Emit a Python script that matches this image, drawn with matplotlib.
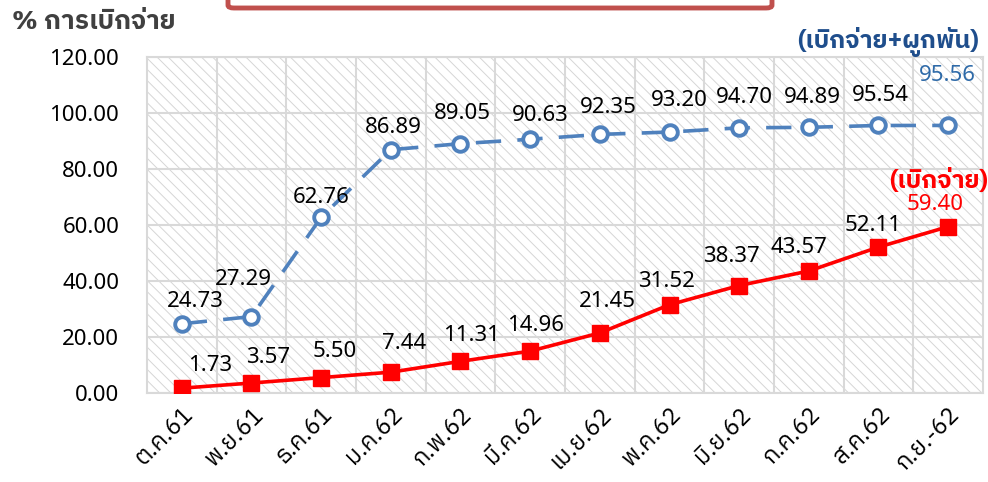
import matplotlib
matplotlib.use("Agg")
import matplotlib.pyplot as plt
from matplotlib.patches import Rectangle, FancyBboxPatch
from matplotlib.transforms import ScaledTranslation

plt.rcParams["font.family"] = ["Noto Sans", "IBM Plex Sans Thai", "DejaVu Sans"]
plt.rcParams["hatch.linewidth"] = 0.7

# Months (Thai fiscal year 2562)
months = ["ต.ค.61", "พ.ย.61", "ธ.ค.61", "ม.ค.62", "ก.พ.62", "มี.ค.62",
          "เม.ย.62", "พ.ค.62", "มิ.ย.62", "ก.ค.62", "ส.ค.62", "ก.ย.-62"]

# Cumulative disbursement + commitment (%)
committed = [24.73, 27.29, 62.76, 86.89, 89.05, 90.63,
             92.35, 93.20, 94.70, 94.89, 95.54, 95.56]

# Cumulative disbursement (%)
disbursed = [1.73, 3.57, 5.50, 7.44, 11.31, 14.96,
             21.45, 31.52, 38.37, 43.57, 52.11, 59.40]

y_ticks = [0, 20, 40, 60, 80, 100, 120]

# label offsets (pixels) from each marker
committed_dx = [13, -8, 0, 2, 2, 10, 8, 10, 5, 4, 2, -1]
committed_dy = [22, 37, 20, 22, 30, 24, 27, 32, 30, 30, 30, 50]
disbursed_dx = [28, 17, 14, 13, 11, 5, 8, -3, -8, -10, -5, -13]
disbursed_dy = [23, 26, 26, 29, 26, 26, 31, 23, 29, 24, 22, 22]

BLUE = "#4f81bd"
DARK_BLUE = "#1f4e8c"
RED = "#ff0000"
GRID = "#d9d9d9"
THAI = ["IBM Plex Sans Thai", "Noto Sans"]

fig = plt.figure(figsize=(9.88, 4.82), dpi=100)
ax = fig.add_axes([147 / 988, 89 / 482, (983 - 147) / 988, (425 - 89) / 482])

x = list(range(len(months)))

# hatched plot background
ax.add_patch(Rectangle((0, 0), 1, 1, transform=ax.transAxes, facecolor="white",
                       edgecolor="#d6d6d6", hatch="\\\\\\", linewidth=0, zorder=0.1))

ax.set_xlim(-0.5, len(months) - 0.5)
ax.set_ylim(0, 120)
ax.set_yticks(y_ticks)
ax.set_yticklabels([f"{v:.2f}" for v in y_ticks], fontsize=16)
ax.set_xticks(x)
ax.set_xticklabels(months, fontsize=17, rotation=45, ha="right", va="top",
                   rotation_mode="anchor", family=THAI)
shift = ScaledTranslation(5 / 100, 0, fig.dpi_scale_trans)
for lab in ax.get_xticklabels():
    lab.set_transform(lab.get_transform() + shift)
ax.set_xticks([i + 0.5 for i in x[:-1]], minor=True)
ax.tick_params(axis="both", which="both", length=0)
ax.tick_params(axis="y", pad=20)
ax.tick_params(axis="x", pad=7)
ax.set_axisbelow(True)
ax.grid(axis="y", which="major", color=GRID, linewidth=1.5)
ax.grid(axis="x", which="minor", color=GRID, linewidth=1.5)
for s in ax.spines.values():
    s.set_color(GRID)
    s.set_linewidth(1.5)

ax.plot(x, committed, color=BLUE, linewidth=2.6, linestyle=(0, (7, 4.5)),
        marker="o", markersize=10.5, markerfacecolor="white",
        markeredgecolor=BLUE, markeredgewidth=2.8, zorder=3)
ax.plot(x, disbursed, color=RED, linewidth=2.6, marker="s", markersize=11,
        markerfacecolor=RED, markeredgecolor=RED, zorder=4)

px = 0.72
for i, v in enumerate(committed):
    last = i == len(committed) - 1
    ax.annotate(f"{v:.2f}", (i, v),
                xytext=(committed_dx[i] * px, committed_dy[i] * px),
                textcoords="offset points", ha="center", va="center",
                fontsize=16, color="#2e6aa8" if last else "black", zorder=6)
for i, v in enumerate(disbursed):
    last = i == len(disbursed) - 1
    ax.annotate(f"{v:.2f}", (i, v),
                xytext=(disbursed_dx[i] * px, disbursed_dy[i] * px),
                textcoords="offset points", ha="center", va="center",
                fontsize=16, color=RED if last else "black", zorder=6)

fig.text(12 / 988, 1 - 22 / 482, "% การเบิกจ่าย", fontsize=19, fontweight="bold",
         color="#404040", ha="left", va="center", family=THAI)
fig.text(979 / 988, 1 - 42 / 482, "(เบิกจ่าย+ผูกพัน)", fontsize=18,
         fontweight="bold", color=DARK_BLUE, ha="right", va="center", family=THAI)
fig.text(939 / 988, 1 - 180 / 482, "(เบิกจ่าย)", fontsize=18,
         fontweight="bold", color=RED, ha="center", va="center", family=THAI)

# framed title box at the top edge
fig.patches.append(FancyBboxPatch((228 / 988, 1 - 8 / 482), (772 - 228) / 988, 0.1,
                                  boxstyle="round,pad=0,rounding_size=0.006",
                                  transform=fig.transFigure, facecolor="white",
                                  edgecolor="#c0504d", linewidth=3.5, figure=fig))

fig.savefig("out.png", dpi=100)
